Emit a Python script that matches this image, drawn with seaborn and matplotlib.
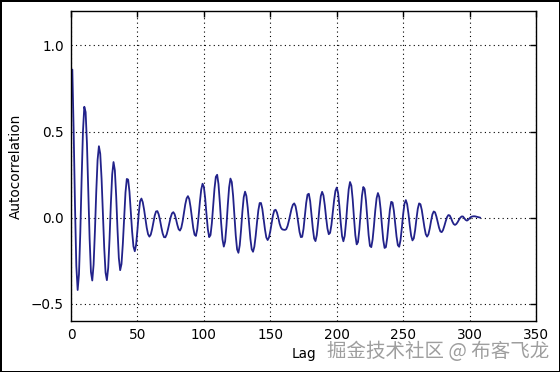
import matplotlib
matplotlib.use("Agg")
import matplotlib.pyplot as plt
import seaborn as sns
import pandas as pd

# Lags (x) and autocorrelation values (y)
lags = list(range(1, 309))
acf = [
    0.86, 0.50, 0.07, -0.28, -0.42, -0.328, -0.085, 0.227, 0.501, 0.644,
    0.613, 0.431, 0.157, -0.121, -0.315, -0.365, -0.273, -0.079, 0.150, 0.335,
    0.415, 0.371, 0.227, 0.026, -0.175, -0.319, -0.363, -0.291, -0.122, 0.082,
    0.251, 0.323, 0.275, 0.125, -0.069, -0.234, -0.305, -0.269, -0.153, 0.003,
    0.146, 0.225, 0.221, 0.150, 0.037, -0.081, -0.167, -0.195, -0.157, -0.071,
    0.026, 0.096, 0.111, 0.090, 0.047, -0.007, -0.059, -0.096, -0.110, -0.099,
    -0.068, -0.027, 0.012, 0.036, 0.038, 0.019, -0.015, -0.056, -0.092, -0.113,
    -0.114, -0.097, -0.067, -0.031, 0.002, 0.025, 0.032, 0.020, -0.008, -0.041,
    -0.067, -0.075, -0.059, -0.022, 0.028, 0.077, 0.112, 0.125, 0.108, 0.061,
    -0.001, -0.060, -0.099, -0.106, -0.068, 0.006, 0.092, 0.163, 0.197, 0.179,
    0.111, 0.017, -0.068, -0.113, -0.101, -0.033, 0.068, 0.169, 0.237, 0.249,
    0.195, 0.090, -0.030, -0.126, -0.168, -0.138, -0.047, 0.073, 0.176, 0.227,
    0.207, 0.127, 0.012, -0.104, -0.184, -0.204, -0.160, -0.070, 0.036, 0.119,
    0.151, 0.126, 0.058, -0.033, -0.122, -0.183, -0.198, -0.168, -0.105, -0.027,
    0.043, 0.085, 0.085, 0.051, -0.007, -0.069, -0.115, -0.130, -0.115, -0.078,
    -0.031, 0.013, 0.042, 0.046, 0.030, 0.000, -0.035, -0.058, -0.068, -0.070,
    -0.071, -0.067, -0.048, -0.017, 0.019, 0.052, 0.075, 0.083, 0.067, 0.025,
    -0.031, -0.083, -0.113, -0.111, -0.065, 0.009, 0.085, 0.134, 0.139, 0.096,
    0.020, -0.062, -0.121, -0.136, -0.101, -0.028, 0.057, 0.125, 0.150, 0.129,
    0.073, 0.000, -0.063, -0.096, -0.088, -0.042, 0.027, 0.100, 0.155, 0.175,
    0.145, 0.067, -0.029, -0.107, -0.137, -0.106, -0.026, 0.077, 0.165, 0.207,
    0.186, 0.107, -0.003, -0.102, -0.155, -0.142, -0.070, 0.033, 0.128, 0.178,
    0.166, 0.098, -0.002, -0.101, -0.164, -0.171, -0.127, -0.048, 0.042, 0.113,
    0.143, 0.120, 0.051, -0.043, -0.129, -0.176, -0.171, -0.117, -0.034, 0.046,
    0.092, 0.088, 0.040, -0.034, -0.109, -0.160, -0.169, -0.131, -0.059, 0.021,
    0.082, 0.102, 0.078, 0.022, -0.047, -0.105, -0.132, -0.120, -0.073, -0.007,
    0.052, 0.083, 0.078, 0.045, -0.005, -0.056, -0.096, -0.110, -0.097, -0.063,
    -0.019, 0.019, 0.036, 0.031, 0.007, -0.026, -0.058, -0.080, -0.084, -0.072,
    -0.048, -0.021, 0.003, 0.015, 0.013, -0.002, -0.022, -0.037, -0.042, -0.037,
    -0.026, -0.012, 0.000, 0.007, 0.007, -0.003, -0.013, -0.017, -0.012, -0.003,
    0.004, 0.007, 0.008, 0.008, 0.006, 0.004, 0.002, 0.000,
]
xticks = [0, 50, 100, 150, 200, 250, 300, 350]
yticks = [-0.5, 0.0, 0.5, 1.0]
x_label = "Lag"
y_label = "Autocorrelation"
watermark = "掘金技术社区 @ 布客飞龙"

df = pd.DataFrame({"lag": lags, "acf": acf})

sns.set_theme(style="white")
plt.rcParams["font.family"] = ["DejaVu Sans"]

fig = plt.figure(figsize=(5.6, 3.72), dpi=100)
fig.patch.set_facecolor("white")
fig.patch.set_edgecolor("black")
fig.patch.set_linewidth(2)

ax = fig.add_axes([0.1268, 0.1371, 0.8304, 0.8333])
sns.lineplot(data=df, x="lag", y="acf", ax=ax, color="#22228a",
             linewidth=1.3, estimator=None)

ax.set_xlim(0, 350)
ax.set_ylim(-0.6, 1.2)
ax.set_xticks(xticks)
ax.set_yticks(yticks)
ax.grid(True, linestyle=(0, (1, 3)), color="black", linewidth=0.8)
ax.tick_params(direction="in", top=True, right=True, length=4, width=1,
               colors="black", labelsize=9.8, pad=5)
for s in ax.spines.values():
    s.set_color("black")
    s.set_linewidth(1.0)
ax.set_xlabel(x_label, fontsize=9.8, color="black", labelpad=4)
ax.set_ylabel(y_label, fontsize=9.8, color="black", labelpad=6)

fig.text(0.980, 0.026, watermark, ha="right", va="bottom", fontsize=14,
         color="#9e9e9e", family=["Noto Sans CJK SC", "DejaVu Sans"])

fig.savefig("out.png", dpi=100, facecolor="white", edgecolor="black")
